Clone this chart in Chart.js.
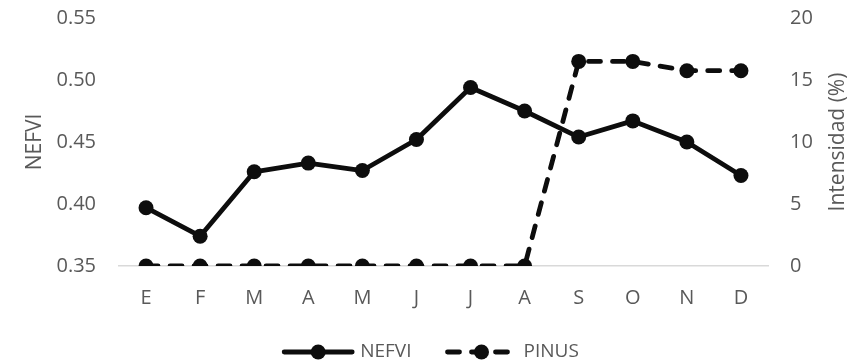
<!DOCTYPE html>
<html>
<head>
<meta charset="utf-8">
<script src="https://cdn.jsdelivr.net/npm/chart.js@4.4.1/dist/chart.umd.min.js"></script>
<style>
  html, body { margin: 0; padding: 0; background: #fff; }
  #wrap { width: 861px; height: 364px; }
</style>
</head>
<body>
<div id="wrap"><canvas id="chart" width="861" height="364"></canvas></div>
<script>
const months = ["E", "F", "M", "A", "M", "J", "J", "A", "S", "O", "N", "D"];
const nefvi = [0.397, 0.374, 0.426, 0.433, 0.427, 0.452, 0.494, 0.475, 0.454, 0.467, 0.450, 0.423];
const pinus = [0, 0, 0, 0, 0, 0, 0, 0, 16.5, 16.5, 15.75, 15.75];
const leftTicks = [0.35, 0.40, 0.45, 0.50, 0.55];
const rightTicks = [0, 5, 10, 15, 20];
const rightTitle = "Intensidad (%)";

const textColor = "#595959";
const lineColor = "#0d0d0d";
const fontFamily = "'Open Sans', sans-serif";
const dash = [12, 12];

// legend: line sample with a dot, like the office style one
const lineLegend = {
  id: "lineLegend",
  afterDraw(chart) {
    const ctx = chart.ctx;
    const sample = 72, gapText = 6, gapItem = 34;
    ctx.save();
    ctx.font = "19px " + fontFamily;
    const items = chart.data.datasets.map(ds => ({
      ds, w: ctx.measureText(ds.label).width
    }));
    let total = 0;
    items.forEach((it, i) => { total += sample + gapText + it.w + (i ? gapItem : 0); });
    let x = (chart.width - total) / 2;
    const y = chart.height - 12;
    items.forEach(it => {
      ctx.strokeStyle = lineColor;
      ctx.fillStyle = lineColor;
      ctx.lineWidth = it.ds.borderWidth;
      ctx.lineCap = "round";
      ctx.setLineDash(it.ds.borderDash || []);
      ctx.beginPath();
      ctx.moveTo(x + 2, y);
      ctx.lineTo(x + sample - 2, y);
      ctx.stroke();
      ctx.setLineDash([]);
      ctx.beginPath();
      ctx.arc(x + sample / 2, y, it.ds.pointRadius, 0, Math.PI * 2);
      ctx.fill();
      ctx.fillStyle = textColor;
      ctx.textBaseline = "middle";
      ctx.textAlign = "left";
      ctx.fillText(it.ds.label, x + sample + gapText, y);
      x += sample + gapText + it.w + gapItem;
    });
    ctx.restore();
  }
};

// right axis title reads bottom to top, like the left one
const rightAxisTitle = {
  id: "rightAxisTitle",
  afterDraw(chart) {
    const ctx = chart.ctx;
    const s = chart.scales.y1;
    ctx.save();
    ctx.translate(s.right - 23, (s.top + s.bottom) / 2);
    ctx.rotate(-Math.PI / 2);
    ctx.font = "21px " + fontFamily;
    ctx.fillStyle = textColor;
    ctx.textAlign = "center";
    ctx.textBaseline = "middle";
    ctx.fillText(rightTitle, 0, 0);
    ctx.restore();
  }
};

new Chart(document.getElementById("chart"), {
  type: "line",
  data: {
    labels: months,
    datasets: [
      {
        label: "NEFVI",
        data: nefvi,
        yAxisID: "y",
        borderColor: lineColor,
        backgroundColor: lineColor,
        borderWidth: 4.8,
        pointRadius: 7.5,
        pointBackgroundColor: lineColor,
        pointBorderWidth: 0,
        tension: 0,
        borderJoinStyle: "round"
      },
      {
        label: "PINUS",
        data: pinus,
        yAxisID: "y1",
        borderColor: lineColor,
        backgroundColor: lineColor,
        borderWidth: 4.8,
        borderDash: dash,
        borderCapStyle: "round",
        pointRadius: 7.5,
        pointBackgroundColor: lineColor,
        pointBorderWidth: 0,
        tension: 0
      }
    ]
  },
  options: {
    responsive: false,
    animation: false,
    layout: { padding: { top: 18, bottom: 48, left: 0, right: 0 } },
    plugins: {
      legend: { display: false },
      tooltip: { enabled: false }
    },
    scales: {
      x: {
        offset: true,
        grid: { display: false, drawTicks: false, offset: true },
        border: { display: true, color: "#d9d9d9", width: 1.5 },
        ticks: { color: textColor, font: { family: fontFamily, size: 20 }, padding: 20, maxRotation: 0 },
        afterFit(scale) { scale.height = 50; }
      },
      y: {
        position: "left",
        min: 0.35,
        max: 0.55,
        grid: { display: false, drawTicks: false },
        border: { display: false },
        ticks: {
          color: textColor,
          font: { family: fontFamily, size: 20 },
          padding: 23,
          callback: v => v.toFixed(2)
        },
        afterBuildTicks(scale) { scale.ticks = leftTicks.map(v => ({ value: v })); },
        title: {
          display: true,
          text: "NEFVI",
          color: textColor,
          font: { family: fontFamily, size: 21 },
          padding: { top: 22, bottom: 0 }
        },
        afterFit(scale) { scale.width = 119; scale.paddingTop = 0; scale.paddingBottom = 0; }
      },
      y1: {
        position: "right",
        min: 0,
        max: 20,
        grid: { display: false, drawTicks: false },
        border: { display: false },
        ticks: { color: textColor, font: { family: fontFamily, size: 20 }, padding: 22 },
        afterBuildTicks(scale) { scale.ticks = rightTicks.map(v => ({ value: v })); },
        afterFit(scale) { scale.width = 93; scale.paddingTop = 0; scale.paddingBottom = 0; }
      }
    }
  },
  plugins: [lineLegend, rightAxisTitle]
});
</script>
</body>
</html>
